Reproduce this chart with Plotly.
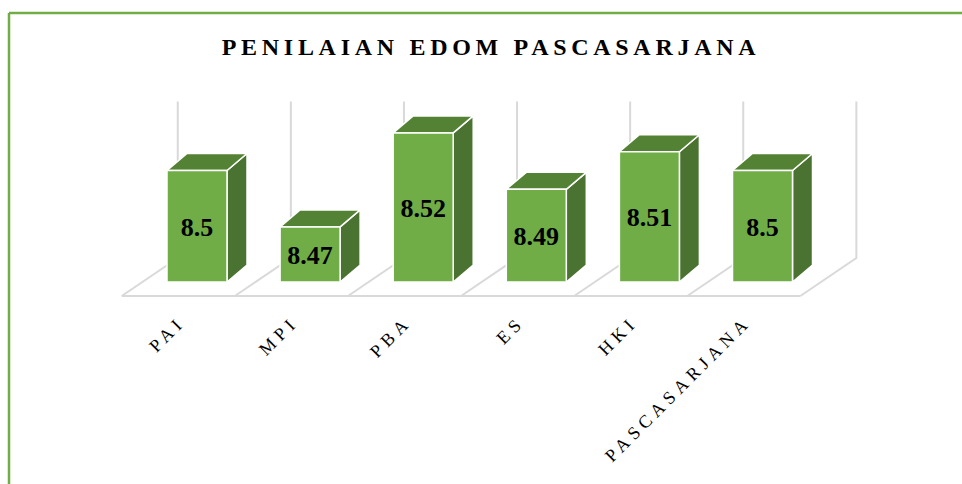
import numpy as np
import plotly.graph_objects as go

# ---------------- data ----------------
categories = ["PAI", "MPI", "PBA", "ES", "HKI", "PASCASARJANA"]
values = [8.50, 8.47, 8.52, 8.49, 8.51, 8.50]
title_text = "PENILAIAN EDOM PASCASARJANA"

# ---------------- styling / projection constants ----------------
W, H = 962, 484
PX_PER_CAT = 113.1          # pixels per category step
PX_PER_UNIT = 1880.0        # pixels per value unit
BASE = 8.4407               # value at the floor (bar base)
WALL_TOP = 8.524            # top of the back-wall gridlines
PLOT_BOTTOM_PX = 300        # pixel row of plot-area bottom
BAR_CENTER0_PX = 197        # pixel column of first bar centre

FRONT = "#70AD47"
TOP = "#548235"
SIDE = "#4A7230"
GRID = "#D9D9D9"
FONT = "Liberation Serif, Times New Roman, serif"

n = len(categories)
xs = np.arange(n, dtype=float)

hw = 30 / PX_PER_CAT                 # half bar width
bdx, bdy = 20 / PX_PER_CAT, 17 / PX_PER_UNIT      # bar depth
fdx, fdy = -20.7 / PX_PER_CAT, -14 / PX_PER_UNIT  # floor front offset
kdx, kdy = 35.3 / PX_PER_CAT, 24 / PX_PER_UNIT    # floor back offset
seps = np.arange(n + 1) - 0.5 + 2 / PX_PER_CAT
label_dy = -3 / PX_PER_UNIT

x_range = [-BAR_CENTER0_PX / PX_PER_CAT, (W - BAR_CENTER0_PX) / PX_PER_CAT]
y_range = [BASE - (PLOT_BOTTOM_PX - 282) / PX_PER_UNIT, BASE + 282 / PX_PER_UNIT]

fig = go.Figure()

# ---------------- walls / floor grid ----------------
gx, gy = [], []
for s in seps:
    bx, by = s + kdx, BASE + kdy
    gx += [bx, bx, s + fdx, None]
    gy += [WALL_TOP + kdy, by, BASE + fdy, None]
gx += [seps[0] + fdx, seps[-1] + fdx, None]
gy += [BASE + fdy, BASE + fdy, None]
fig.add_trace(go.Scatter(x=gx, y=gy, mode="lines",
                         line=dict(color=GRID, width=2),
                         hoverinfo="skip", showlegend=False))

# ---------------- 3D bars ----------------
for x, v in zip(xs, values):
    side_x = [x + hw, x + hw, x + hw + bdx, x + hw + bdx, x + hw]
    side_y = [BASE, v, v + bdy, BASE + bdy, BASE]
    top_x = [x - hw, x + hw, x + hw + bdx, x - hw + bdx, x - hw]
    top_y = [v, v, v + bdy, v + bdy, v]
    front_x = [x - hw, x + hw, x + hw, x - hw, x - hw]
    front_y = [BASE, BASE, v, v, BASE]
    for px_, py_, col in [(side_x, side_y, SIDE), (top_x, top_y, TOP),
                          (front_x, front_y, FRONT)]:
        fig.add_trace(go.Scatter(x=px_, y=py_, mode="lines", fill="toself",
                                 fillcolor=col,
                                 line=dict(color="white", width=1.5),
                                 hoverinfo="skip", showlegend=False))

# ---------------- value labels ----------------
fig.add_trace(go.Scatter(
    x=xs, y=[(BASE + v) / 2 + label_dy for v in values], mode="text",
    text=[f"{v:g}" for v in values],
    textfont=dict(family=FONT, size=26, color="black", weight="bold"),
    textposition="middle center", hoverinfo="skip", showlegend=False,
    cliponaxis=False))

# ---------------- border ----------------
top_paper = (PLOT_BOTTOM_PX - 13) / PLOT_BOTTOM_PX
bot_paper = (PLOT_BOTTOM_PX - H - 5) / PLOT_BOTTOM_PX
left_paper = 9 / W
fig.add_shape(type="line", xref="paper", yref="paper",
              x0=left_paper, x1=left_paper, y0=bot_paper, y1=top_paper,
              line=dict(color="#70AD47", width=2.5))
fig.add_shape(type="line", xref="paper", yref="paper",
              x0=left_paper, x1=1.02, y0=top_paper, y1=top_paper,
              line=dict(color="#70AD47", width=2.5))

fig.update_layout(
    width=W, height=H,
    margin=dict(l=0, r=0, t=0, b=H - PLOT_BOTTOM_PX, pad=0),
    paper_bgcolor="white", plot_bgcolor="white",
    showlegend=False,
    title=dict(text=title_text, x=491 / W, xanchor="center",
               y=1 - 47 / H, yanchor="middle", xref="paper", yref="container",
               font=dict(family=FONT, size=24, color="black", weight="bold")),
    xaxis=dict(range=x_range, tickvals=list(xs), ticktext=categories,
               tickangle=-45, showgrid=False, zeroline=False, showline=False,
               ticks="", ticklabelstandoff=7, ticklabelshift=-17,
               tickfont=dict(family=FONT, size=18, color="black"),
               fixedrange=True),
    yaxis=dict(range=y_range, visible=False, fixedrange=True),
)

css = ("document.body.style.margin='0';"
       "var s=document.createElement('style');"
       "s.innerHTML='body{margin:0}.xtick text{letter-spacing:5px}.gtitle{letter-spacing:4.7px}';"
       "document.head.appendChild(s);")
fig.write_html("out.html", post_script=css, config={"displayModeBar": False})
